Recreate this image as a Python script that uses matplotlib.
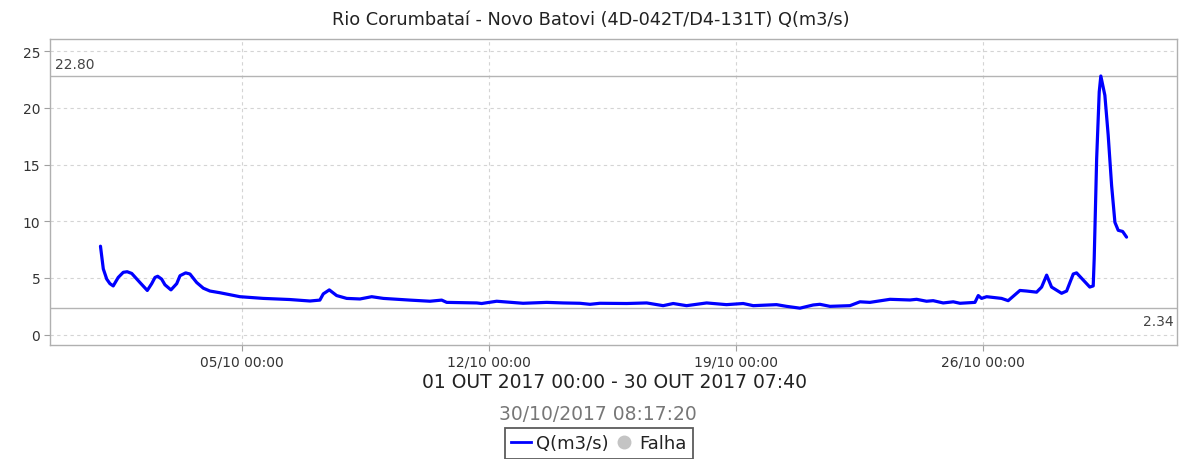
import matplotlib
matplotlib.use("Agg")
import matplotlib.pyplot as plt
import matplotlib.dates as mdates
from matplotlib.lines import Line2D
import pandas as pd

title = "Rio Corumbataí - Novo Batovi (4D-042T/D4-131T) Q(m3/s)"
period_label = "01 OUT 2017 00:00 - 30 OUT 2017 07:40"
generated_at = "30/10/2017 08:17:20"
series_label = "Q(m3/s)"
fail_label = "Falha"

# observation times (day of October 2017, HH:MM) and discharge values
times = [
    "01 00:00", "01 01:55", "01 04:15", "01 06:25", "01 08:40", "01 12:05", "01 15:30", "01 18:10",
    "01 21:15", "02 02:50", "02 07:50", "02 10:50", "02 13:05", "02 14:55", "02 17:35", "02 19:50",
    "02 23:55", "03 03:50", "03 06:05", "03 09:55", "03 12:50", "03 17:25", "03 21:55", "04 02:25",
    "04 09:10", "04 22:50", "05 14:40", "06 08:50", "06 22:25", "07 05:10", "07 07:30", "07 11:35",
    "07 16:35", "07 23:25", "08 08:25", "08 16:25", "09 00:20", "09 18:25", "10 08:00", "10 16:00",
    "10 19:25", "11 15:50", "11 19:10", "12 05:25", "12 23:20", "13 15:25", "14 02:35", "14 14:00",
    "14 20:50", "15 03:35", "15 21:50", "16 11:25", "16 22:35", "17 05:25", "17 14:30", "18 04:10",
    "18 17:40", "19 05:00", "19 11:50", "20 03:40", "20 10:30", "20 19:35", "21 04:35", "21 09:10",
    "21 16:00", "22 05:35", "22 12:25", "22 19:10", "23 08:50", "23 22:25", "24 02:55", "24 09:40",
    "24 14:10", "24 21:00", "25 03:50", "25 08:25", "25 18:35", "25 20:50", "25 23:05", "26 02:30",
    "26 05:55", "26 12:40", "26 17:10", "27 01:10", "27 05:40", "27 12:30", "27 15:55", "27 19:20",
    "27 22:40", "28 05:30", "28 08:55", "28 13:25", "28 15:40", "29 00:40", "29 03:00", "29 03:40",
    "29 05:20", "29 07:05", "29 08:10", "29 10:55", "29 13:10", "29 15:30", "29 17:45", "29 20:00",
    "29 23:00", "30 01:40",
]
discharge = [
    7.80, 5.80, 4.90, 4.50, 4.30, 5.05, 5.50, 5.55,
    5.40, 4.60, 3.90, 4.50, 5.05, 5.15, 4.90, 4.40,
    3.95, 4.50, 5.20, 5.45, 5.35, 4.60, 4.10, 3.85,
    3.70, 3.35, 3.20, 3.10, 2.97, 3.05, 3.60, 3.95,
    3.45, 3.20, 3.15, 3.35, 3.20, 3.05, 2.95, 3.05,
    2.85, 2.80, 2.75, 2.95, 2.77, 2.85, 2.80, 2.77,
    2.68, 2.77, 2.75, 2.80, 2.56, 2.75, 2.56, 2.80,
    2.65, 2.75, 2.56, 2.65, 2.50, 2.34, 2.62, 2.68,
    2.50, 2.56, 2.90, 2.85, 3.12, 3.06, 3.12, 2.95,
    3.00, 2.80, 2.90, 2.77, 2.85, 3.45, 3.20, 3.35,
    3.30, 3.20, 3.00, 3.90, 3.85, 3.75, 4.20, 5.25,
    4.20, 3.65, 3.85, 5.35, 5.45, 4.20, 4.30, 6.70,
    15.5, 21.4, 22.80, 21.1, 17.6, 13.15, 9.90, 9.20,
    9.10, 8.60,
]

y_ticks = [0, 5, 10, 15, 20, 25]
x_tick_days = ["2017-10-05", "2017-10-12", "2017-10-19", "2017-10-26"]

stamps = pd.to_datetime(["2017-10-" + t for t in times], format="%Y-%m-%d %H:%M")
q_max = max(discharge)
q_min = min(discharge)

fig = plt.figure(figsize=(11.81, 4.60), dpi=100)
ax = fig.add_axes([50 / 1181, 1 - 345.7 / 460, 1126.7 / 1181, 305.7 / 460])

ax.plot(stamps, discharge, color="#0000ff", lw=2.3, solid_joinstyle="round",
        solid_capstyle="round", zorder=3)

# reference lines at the extremes
ax.axhline(q_max, color="#b4b4b4", lw=1.0, zorder=2)
ax.axhline(q_min, color="#b4b4b4", lw=1.0, zorder=2)
ax.text(0.004, q_max + 0.45, f"{q_max:.2f}", transform=ax.get_yaxis_transform(),
        ha="left", va="bottom", fontsize=10, color="#444444")
ax.text(0.997, q_min - 0.55, f"{q_min:.2f}", transform=ax.get_yaxis_transform(),
        ha="right", va="top", fontsize=10, color="#444444")

start = pd.Timestamp("2017-10-01")
ax.set_xlim(start - pd.Timedelta(days=1.43), start + pd.Timedelta(days=30.49))
ax.set_ylim(-0.88, 26.06)

ax.set_yticks(y_ticks)
ax.set_xticks(pd.to_datetime(x_tick_days))
ax.xaxis.set_major_formatter(mdates.DateFormatter("%d/%m %H:%M"))

ax.grid(True, color="#d4d4d4", lw=0.8, ls=(0, (3, 3)))
ax.set_axisbelow(True)
for s in ax.spines.values():
    s.set_color("#b0b0b0")
    s.set_linewidth(1.0)
ax.tick_params(axis="both", length=4, width=0.8, color="#a0a0a0",
               labelsize=10, labelcolor="#333333", pad=3)

fig.suptitle(title, x=591 / 1181, y=1 - 20 / 460, va="center", fontsize=12.8, color="#222222")
fig.text(614 / 1181, 1 - 383 / 460, period_label, ha="center", va="center",
         fontsize=13.5, color="#222222")
fig.text(598 / 1181, 1 - 415 / 460, generated_at, ha="center", va="center",
         fontsize=13.5, color="#777777")

handles = [
    Line2D([], [], color="#0000ff", lw=2.0),
    Line2D([], [], color="#c4c4c4", marker="o", ls="none", markersize=9),
]
leg = fig.legend(handles, [series_label, fail_label], loc="upper center",
                 bbox_to_anchor=(599 / 1181, 1 - 429 / 460), ncol=2, fontsize=13,
                 frameon=True, fancybox=False, edgecolor="#333333", handlelength=1.1,
                 handletextpad=0.3, columnspacing=0.3, borderpad=0.35, borderaxespad=0)
leg.get_frame().set_linewidth(1.3)
for t in leg.get_texts():
    t.set_color("#222222")

fig.savefig("out.png", dpi=100)
